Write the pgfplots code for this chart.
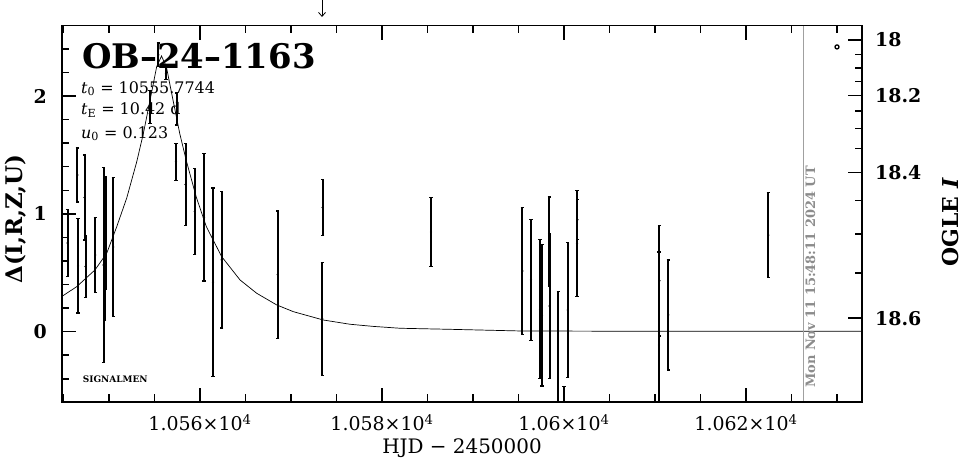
\documentclass[border=0pt]{standalone}
\usepackage{pgfplots}
\pgfplotsset{compat=1.18}
\usepackage{pgfplotstable}
\usepackage{fontspec}
\setmainfont{DejaVu Serif}
\usetikzlibrary{arrows.meta}
\definecolor{dategray}{HTML}{8C8C8C}
\definecolor{linegray}{HTML}{A0A0A0}

% HJD - 2450000 observations: t, Delta, error
\pgfplotstableread{
t d e
10545.44 0.753 0.284
10546.52 1.33 0.23
10546.60 0.558 0.40
10547.31 1.139 0.36
10547.42 0.553 0.26
10548.49 0.651 0.32
10549.40 0.566 0.83
10549.51 0.70 0.60
10549.62 0.838 0.48
10550.47 0.719 0.59
10554.51 1.91 0.14
10555.42 2.35 0.10
10556.26 2.19 0.05
10557.44 1.89 0.136
10557.36 1.443 0.157
10558.41 1.25 0.35
10559.43 1.02 0.365
10560.44 0.97 0.54
10561.43 0.42 0.80
10562.38 0.61 0.58
10568.54 0.484 0.541
10573.48 1.054 0.24
10573.44 0.108 0.48
10585.38 0.846 0.295
10595.42 0.515 0.54
10596.37 0.44 0.515
10597.36 0.19 0.59
10597.58 0.14 0.60
10598.38 0.764 0.38
10598.41 0.218 0.615
10599.37 -0.62 0.96
10600.00 -0.90 0.433
10600.41 0.184 0.575
10601.43 0.75 0.45
10601.48 0.95 0.17
10610.49 0.432 0.47
10610.44 -0.113 0.79
10611.46 0.142 0.467
10622.45 0.82 0.362
}\obs

% model curve
\pgfplotstableread{
t d
10544.835 0.300
10546.45 0.382
10548.46 0.524
10549.75 0.666
10550.85 0.891
10551.95 1.135
10553.04 1.44
10553.77 1.68
10554.50 1.96
10555.24 2.25
10555.77 2.34
10556.30 2.25
10557.05 1.96
10557.78 1.68
10558.50 1.45
10559.60 1.14
10560.70 0.891
10562.38 0.637
10564.40 0.439
10566.23 0.326
10568.43 0.227
10570.25 0.170
10573.55 0.099
10576.48 0.063
10579.00 0.045
10581.98 0.029
10587.47 0.020
10595.16 0.006
10610.00 0.003
10632.747 0.003
}\model

% axes use x = HJD - 2450000 - 10500 internally; ticks are labelled in HJD - 2450000
\pgfplotsset{
  common/.style={
    at={(0,0)}, anchor=south west,
    scale only axis, width=800bp, height=376.5bp,
    xmin=44.835, xmax=132.747, ymin=-0.597, ymax=2.599,
    scaled x ticks=false, scaled y ticks=false,
    axis line style={line width=1.8bp, -},
    tick align=inside,
    major tick length=14bp, minor tick length=7.5bp,
    every tick/.style={black, line width=1.5bp},
    every minor tick/.style={black, line width=1.5bp},
  },
}

\begin{document}
\begin{tikzpicture}
% main axis: data, bottom x labels, left y ticks
\begin{axis}[common,
  axis x line*=bottom, axis y line*=left,
  xtick pos=bottom, ytick pos=left,
  xtick={60,80,100,120},
  xticklabels={1.056×10\textsuperscript{4},1.058×10\textsuperscript{4},1.06×10\textsuperscript{4},1.062×10\textsuperscript{4}},
  ytick={0,1,2}, yticklabels={0,1,2},
  minor ytick={-0.4,-0.2,0.2,0.4,0.6,0.8,1.2,1.4,1.6,1.8,2.2,2.4},
  xticklabel style={font=\fontsize{19}{19}\selectfont, anchor=base, yshift=-29bp, inner sep=0pt},
  yticklabel style={font=\bfseries\fontsize{19}{19}\selectfont, anchor=east, inner sep=0pt, xshift=-15bp},
  xlabel={HJD − 2450000},
  xlabel style={font=\fontsize{20}{20}\selectfont, at={(axis description cs:0.5,-0.136)}, anchor=base, inner sep=0pt},
  ylabel={Δ(I,R,Z,U)},
  ylabel style={font=\bfseries\fontsize{23}{23}\selectfont, at={(axis description cs:-0.0575,0.486)}, anchor=center, rotate=0, inner sep=0pt},
  unbounded coords=jump,
]
% x tick marks on bottom and top edges (major 14bp, minor 7.5bp)
\addplot[black, line width=1.5bp, forget plot] coordinates {
 (60,-0.597) (60,-0.478) (60,nan) (60,2.599) (60,2.480) (60,nan)
 (80,-0.597) (80,-0.478) (80,nan) (80,2.599) (80,2.480) (80,nan)
 (100,-0.597) (100,-0.478) (100,nan) (100,2.599) (100,2.480) (100,nan)
 (120,-0.597) (120,-0.478) (120,nan) (120,2.599) (120,2.480) (120,nan)
 (45,-0.597) (45,-0.533) (45,nan) (45,2.599) (45,2.535) (45,nan)
 (50,-0.597) (50,-0.533) (50,nan) (50,2.599) (50,2.535) (50,nan)
 (55,-0.597) (55,-0.533) (55,nan) (55,2.599) (55,2.535) (55,nan)
 (65,-0.597) (65,-0.533) (65,nan) (65,2.599) (65,2.535) (65,nan)
 (70,-0.597) (70,-0.533) (70,nan) (70,2.599) (70,2.535) (70,nan)
 (75,-0.597) (75,-0.533) (75,nan) (75,2.599) (75,2.535) (75,nan)
 (85,-0.597) (85,-0.533) (85,nan) (85,2.599) (85,2.535) (85,nan)
 (90,-0.597) (90,-0.533) (90,nan) (90,2.599) (90,2.535) (90,nan)
 (95,-0.597) (95,-0.533) (95,nan) (95,2.599) (95,2.535) (95,nan)
 (105,-0.597) (105,-0.533) (105,nan) (105,2.599) (105,2.535) (105,nan)
 (110,-0.597) (110,-0.533) (110,nan) (110,2.599) (110,2.535) (110,nan)
 (115,-0.597) (115,-0.533) (115,nan) (115,2.599) (115,2.535) (115,nan)
 (125,-0.597) (125,-0.533) (125,nan) (125,2.599) (125,2.535) (125,nan)
 (130,-0.597) (130,-0.533) (130,nan) (130,2.599) (130,2.535)
};
\addplot[black, line width=0.7bp] table[x expr=\thisrow{t}-10500, y=d] {\model};
\addplot[only marks, mark=*, mark size=0.9bp, black,
  error bars/.cd, y dir=both, y explicit, error mark=|,
  error bar style={line width=2bp, black},
  error mark options={line width=1.3bp, mark size=1.6bp, black}]
  table[x expr=\thisrow{t}-10500, y=d, y error=e] {\obs};
\addplot[only marks, mark=o, mark size=2bp, line width=1.3bp, black] coordinates {(130.0,2.417)};
\draw[linegray, line width=0.8bp] (axis cs:126.26,-0.597) -- (axis cs:126.26,2.599);
\node[dategray, rotate=90, anchor=base west, inner sep=0pt, font=\bfseries\fontsize{13}{13}\selectfont]
  at (axis cs:127.6,-0.478) {Mon Nov 11 15:48:11 2024 UT};
\node[anchor=base west, inner sep=0pt, font=\bfseries\fontsize{34}{34}\selectfont]
  at (axis description cs:0.025,0.8871) {OB--24--1163};
\node[anchor=base west, inner sep=0pt, font=\fontsize{16}{16}\selectfont]
  at (axis description cs:0.02375,0.8199) {\textit{t}\textsubscript{0} = 10555.7744};
\node[anchor=base west, inner sep=0pt, font=\fontsize{16}{16}\selectfont]
  at (axis description cs:0.02375,0.7623) {\textit{t}\textsubscript{E} = 10.42 d};
\node[anchor=base west, inner sep=0pt, font=\fontsize{16}{16}\selectfont]
  at (axis description cs:0.02375,0.7004) {\textit{u}\textsubscript{0} = 0.123};
\node[anchor=base west, inner sep=0pt, font=\bfseries\fontsize{9}{9}\selectfont]
  at (axis description cs:0.0259,0.0531) {SIGNALMEN};
\coordinate (arr) at (axis cs:73.41,2.599);
\coordinate (boxsw) at (rel axis cs:0,0);
\coordinate (boxne) at (rel axis cs:1,1);
\end{axis}
% right OGLE I axis
\begin{axis}[common,
  hide x axis, axis y line*=right,
  ytick pos=right,
  ytick={0.115,1.351,2.005,2.476},
  yticklabels={18.6,18.4,18.2,18},
  minor ytick={0.500,0.831,1.112,1.553,1.726,1.874,2.124,2.239,2.354},
  yticklabel style={font=\bfseries\fontsize{19}{19}\selectfont, anchor=west, inner sep=0pt, xshift=13bp},
  ylabel={OGLE \textit{I}},
  ylabel style={font=\bfseries\fontsize{22}{22}\selectfont, at={(axis description cs:1.1105,0.478)}, anchor=center, rotate=0, inner sep=0pt},
]
\addplot[draw=none] coordinates {(60,0)};
\end{axis}
\draw[black, line width=1.8bp] (boxsw) rectangle (boxne);
\draw[black, line width=0.8bp, -{Straight Barb[length=4bp, width=7bp]}] (arr) ++(0bp,25.5bp) -- ++(0bp,-17bp);
\pgfresetboundingbox
\path[use as bounding box] (-62bp,-57bp) rectangle (903bp,402bp);
\end{tikzpicture}
\end{document}
